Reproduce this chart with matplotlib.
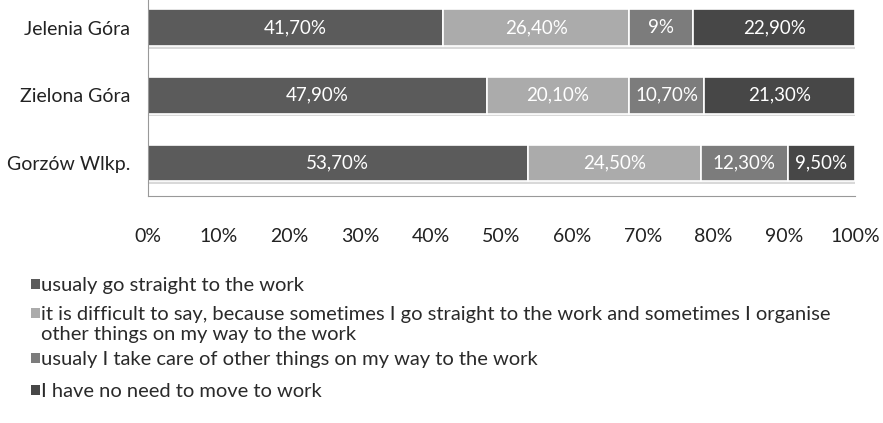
import numpy as np
import matplotlib.pyplot as plt
from matplotlib.patches import Rectangle

cities = ["Jelenia Góra", "Zielona Góra", "Gorzów Wlkp."]
straight = [41.7, 47.9, 53.7]
difficult = [26.4, 20.1, 24.5]
other_things = [9.0, 10.7, 12.3]
no_need = [22.9, 21.3, 9.5]
labels_straight = ["41,70%", "47,90%", "53,70%"]
labels_difficult = ["26,40%", "20,10%", "24,50%"]
labels_other = ["9%", "10,70%", "12,30%"]
labels_no_need = ["22,90%", "21,30%", "9,50%"]
legend_names = [
    "usualy go straight to the work",
    "it is difficult to say, because sometimes I go straight to the work and sometimes I organise\nother things on my way to the work",
    "usualy I take care of other things on my way to the work",
    "I have no need to move to work",
]
colors = ["#5b5b5b", "#ababab", "#7c7c7c", "#474747"]

plt.rcParams['font.family'] = ['Lato', 'DejaVu Sans']

fig = plt.figure(figsize=(8.83, 4.23), dpi=100)
ax = fig.add_axes([148 / 883, 1 - 196 / 423, (855 - 148) / 883, 196 / 423])

y = np.arange(len(cities))
series = [straight, difficult, other_things, no_need]
texts = [labels_straight, labels_difficult, labels_other, labels_no_need]
left = np.zeros(len(cities))
for vals, labs, c in zip(series, texts, colors):
    vals = np.array(vals)
    # faint shadow under each segment
    ax.barh(y + 0.04, vals, left=left, height=0.54, color="#d9d9d9", zorder=1)
    bars = ax.barh(y, vals, left=left, height=0.54, color=c,
                   edgecolor="white", linewidth=1.2, zorder=2)
    for b, lab in zip(bars, labs):
        ax.text(b.get_x() + b.get_width() / 2, b.get_y() + b.get_height() / 2,
                lab, color="white", ha="center", va="center", fontsize=13.5, zorder=3)
    left += vals

ax.set_xlim(0, 100)
ax.set_ylim(2.487, -0.406)
ax.set_yticks(y)
ax.set_yticklabels(cities, fontsize=14, color="#222222")
ax.set_xticks(np.arange(0, 101, 10))
ax.set_xticklabels([f"{v}%" for v in range(0, 101, 10)], fontsize=14, color="#222222")
ax.tick_params(length=0)
ax.tick_params(axis="x", pad=23)
ax.tick_params(axis="y", pad=13)
for s in ["top", "right"]:
    ax.spines[s].set_visible(False)
ax.spines["left"].set_color("#999999")
ax.spines["bottom"].set_color("#999999")

# legend drawn by hand so the square sits on the first line of a wrapped entry
legend_y = [285, 314, 359, 391]
for name, c, yy in zip(legend_names, colors, legend_y):
    fig.patches.append(Rectangle((31 / 883, 1 - (yy + 4) / 423), 9 / 883, 10 / 423,
                                 transform=fig.transFigure, facecolor=c, edgecolor="none"))
    fig.text(41 / 883, 1 - (yy - 8) / 423, name, ha="left", va="top", fontsize=14.5,
             color="#2a2a2a", linespacing=1.2)

fig.savefig("out.png", dpi=100)
